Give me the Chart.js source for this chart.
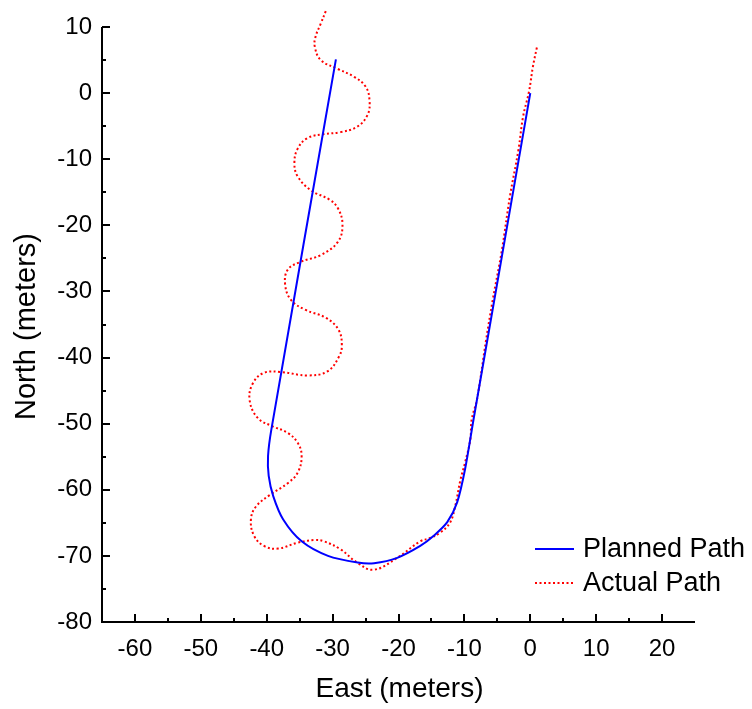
<!DOCTYPE html>
<html>
<head>
<meta charset="utf-8">
<script src="https://cdn.jsdelivr.net/npm/chart.js@4"></script>
<style>
  html, body { margin: 0; padding: 0; background: #fff; }
  #wrap { width: 752px; height: 709px; }
</style>
</head>
<body>
<div id="wrap"><canvas id="grafico"></canvas></div>
<script>
// planned path (East, North) in meters
const plannedEast = [0, -8.6, -9.9, -11.1, -12.6, -14.7, -16.7, -20.2, -23.7, -26.2, -30.7, -34.7, -37.5, -39.0, -39.7, -39.8, -39.3, -29.5];
const plannedNorth = [0, -49.3, -56.9, -61.9, -64.9, -67.0, -68.5, -70.3, -71.1, -71.0, -70.0, -67.8, -64.5, -61.0, -57.9, -54.9, -50.9, 5.1];

// actual path (East, North) in meters
const actualEast = [1.0, 0.4, -0.2, -1.1, -1.8, -3.1, -4.3, -5.7, -6.7, -8.1, -8.9, -9.1, -9.9, -10.6, -11.4, -12.2, -13.7, -15.2, -16.7, -20.2,
  -23.8, -26.3, -28.8, -31.3, -32.8, -35.3, -38.3, -40.4, -41.9, -42.4, -41.6, -39.4, -36.8, -35.3, -34.7, -35.3, -36.8, -39.1, -41.4, -42.6,
  -42.1, -40.4, -37.8, -33.8, -30.8, -29.0, -28.6, -29.1, -31.0, -34.1, -36.3, -37.2, -36.8, -34.8, -31.8, -29.2, -28.5, -29.2, -30.5, -33.3,
  -35.3, -35.8, -35.3, -33.8, -31.3, -28.8, -26.3, -24.7, -24.4, -25.0, -26.8, -29.3, -31.8, -32.7, -32.6, -31.8, -31.0];
const actualNorth = [6.9, 4.0, 0.2, -3.6, -8.6, -15.7, -23.7, -31.3, -37.3, -46.4, -49.4, -52.4, -55.9, -58.5, -62.5, -65.0, -66.5, -67.3, -67.8, -70.3,
  -72.1, -71.0, -69.0, -67.8, -67.6, -68.0, -68.9, -68.5, -67.0, -64.5, -62.5, -60.7, -59.0, -57.4, -54.9, -52.9, -51.4, -50.4, -49.1, -46.4,
  -43.9, -42.3, -42.2, -42.7, -42.1, -39.8, -38.1, -35.8, -34.0, -32.8, -31.3, -29.0, -26.7, -25.5, -24.5, -22.5, -19.9, -17.4, -16.1, -14.7,
  -12.6, -10.6, -8.4, -6.8, -6.2, -5.9, -5.1, -3.3, -1.1, 1.0, 2.5, 3.7, 5.0, 7.0, 8.5, 10.5, 12.5];

const seriesNames = ['Planned Path', 'Actual Path'];
const xTitle = 'East (meters)';
const yTitle = 'North (meters)';
const xRange = [-65, 25];
const yRange = [-80, 10];

const fonte = '"Liberation Sans", Arial, sans-serif';

function pares(xs, ys) {
  return xs.map((x, i) => ({ x: x, y: ys[i] }));
}

// axes with inward ticks, titles and legend
const eixosPlugin = {
  id: 'eixos',
  afterDraw(chart) {
    const ctx = chart.ctx;
    const a = chart.chartArea;
    const sx = chart.scales.x;
    const sy = chart.scales.y;
    ctx.save();
    ctx.strokeStyle = '#000';
    ctx.lineWidth = 2;
    ctx.beginPath();
    ctx.moveTo(a.left, a.top);
    ctx.lineTo(a.left, a.bottom);
    ctx.lineTo(a.right, a.bottom);
    ctx.stroke();

    for (let v = xRange[0] + 5; v <= xRange[1] - 5; v += 5) {
      const px = Math.round(sx.getPixelForValue(v));
      const len = v % 10 === 0 ? 8 : 4;
      ctx.beginPath();
      ctx.moveTo(px, a.bottom);
      ctx.lineTo(px, a.bottom - len);
      ctx.stroke();
    }
    for (let v = yRange[0] + 5; v <= yRange[1]; v += 5) {
      const py = Math.round(sy.getPixelForValue(v));
      const len = v % 10 === 0 ? 8 : 4;
      ctx.beginPath();
      ctx.moveTo(a.left, py);
      ctx.lineTo(a.left + len, py);
      ctx.stroke();
    }

    ctx.fillStyle = '#000';
    ctx.font = '28px ' + fonte;
    ctx.textAlign = 'center';
    ctx.textBaseline = 'middle';
    ctx.fillText(xTitle, (a.left + a.right) / 2 + 1, 689);
    ctx.save();
    ctx.translate(27, (a.top + a.bottom) / 2 + 2);
    ctx.rotate(-Math.PI / 2);
    ctx.font = '29px ' + fonte;
    ctx.fillText(yTitle, 0, 0);
    ctx.restore();

    // legend
    const itens = chart.data.datasets;
    const ys = [549, 583];
    ctx.font = '27px ' + fonte;
    ctx.textAlign = 'left';
    itens.forEach((ds, i) => {
      ctx.strokeStyle = ds.borderColor;
      ctx.lineWidth = 2;
      ctx.setLineDash(ds.borderDash || []);
      ctx.beginPath();
      ctx.moveTo(535, ys[i]);
      ctx.lineTo(574, ys[i]);
      ctx.stroke();
      ctx.setLineDash([]);
      ctx.fillStyle = '#000';
      ctx.fillText(ds.label, 583, ys[i] + 1);
    });
    ctx.restore();
  }
};

new Chart(document.getElementById('grafico').getContext('2d'), {
  type: 'scatter',
  data: {
    datasets: [{
      label: seriesNames[0],
      data: pares(plannedEast, plannedNorth),
      showLine: true,
      borderColor: '#0000ff',
      borderWidth: 2,
      pointRadius: 0,
      tension: 0.3,
      clip: false
    }, {
      label: seriesNames[1],
      data: pares(actualEast, actualNorth),
      showLine: true,
      borderColor: '#ff0000',
      borderWidth: 2,
      borderDash: [2, 2.5],
      pointRadius: 0,
      tension: 0.4,
      clip: false
    }]
  },
  options: {
    responsive: true,
    maintainAspectRatio: false,
    animation: false,
    layout: { padding: { top: 27, right: 57, left: 0, bottom: 0 } },
    plugins: {
      legend: { display: false },
      tooltip: { enabled: false }
    },
    scales: {
      x: {
        type: 'linear',
        min: xRange[0],
        max: xRange[1],
        grid: { display: false, drawTicks: false },
        border: { display: false },
        afterFit: function (s) { s.height = 87; },
        ticks: {
          stepSize: 5,
          padding: 13,
          color: '#000',
          font: { family: fonte, size: 24 },
          maxRotation: 0,
          autoSkip: false,
          callback: function (v) { return v % 10 === 0 && v > xRange[0] && v < xRange[1] ? v : ''; }
        }
      },
      y: {
        type: 'linear',
        min: yRange[0],
        max: yRange[1],
        grid: { display: false, drawTicks: false },
        border: { display: false },
        afterFit: function (s) { s.width = 102; },
        ticks: {
          stepSize: 5,
          padding: 10,
          color: '#000',
          font: { family: fonte, size: 24 },
          autoSkip: false,
          callback: function (v) { return v % 10 === 0 ? v : ''; }
        }
      }
    }
  },
  plugins: [eixosPlugin]
});
</script>
</body>
</html>
